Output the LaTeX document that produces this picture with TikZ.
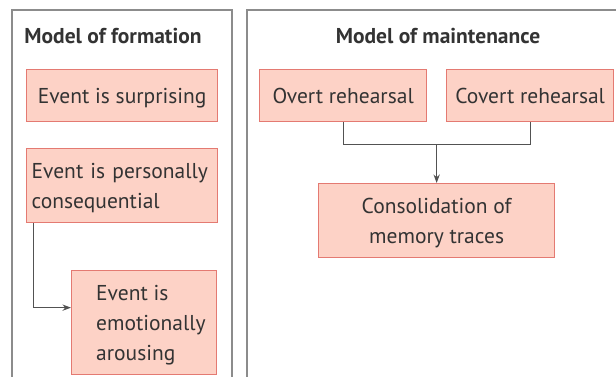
\documentclass[tikz,border=0pt]{standalone}
\usepackage{fontspec}
\setmainfont{PT Sans}
\usepackage{tikz}
\usetikzlibrary{arrows.meta,calc}
\definecolor{boxfill}{RGB}{253,210,198}
\definecolor{boxline}{RGB}{228,122,114}
\definecolor{inkgray}{RGB}{51,51,51}
\definecolor{panelgray}{RGB}{140,140,140}
\tikzset{
  panel/.style    = {draw=panelgray,line width=1.4pt},
  title/.style    = {font=\fontsize{21.5}{24}\selectfont\bfseries,text=inkgray},
  eventbox/.style = {draw=boxline,fill=boxfill,line width=1.3pt,anchor=north west,
                     inner sep=0pt,text=inkgray,font=\fontsize{21.5}{30}\selectfont,text depth=0pt},
  lbl/.style      = {text=inkgray,font=\fontsize{21.5}{30}\selectfont,align=left,inner sep=0pt},
  joinline/.style = {draw=inkgray!85,line width=1pt},
  arr/.style      = {-{Stealth[length=3mm,width=2.2mm]},joinline}
}
\begin{document}
\begin{tikzpicture}[x=1pt,y=-1pt]
  \useasboundingbox (0,0) rectangle (616,376);
  % panels
  \draw[panel] (12,380) -- (12,10) -- (232,10) -- (232,380);
  \draw[panel] (247,380) -- (247,10) -- (620,10);
  \node[title] (formtitle) at (113,36) {Model of formation};
  \node[title] (maintitle) at (438,36) {Model of maintenance};
  % formation
  \node[eventbox,minimum width=191pt,minimum height=52pt] (surprise) at (26,69) {Event is surprising};
  \node[eventbox,minimum width=191pt,minimum height=74pt,align=left,text width=181pt,text depth=30pt] (conseq) at (26,148)
    {Event is personally\\consequential};
  \node[eventbox,minimum width=145pt,minimum height=104pt] (arousal) at (71,270) {};
  \node[lbl,anchor=west] (arousaltext) at (96,325) {Event is\\emotionally\\arousing};
  \draw[arr] ([xshift=7pt]conseq.south west) |- ([yshift=15pt]arousal.west);
  % maintenance
  \node[eventbox,minimum width=167pt,minimum height=52pt] (overt) at (259,69) {Overt rehearsal};
  \node[eventbox,minimum width=167pt,minimum height=52pt] (covert) at (446,69) {Covert rehearsal};
  \node[eventbox,minimum width=236pt,minimum height=74pt,align=center] (consol) at (318,183)
    {Consolidation of\\memory traces};
  \draw[joinline] (overt.south) -- ++(0,22) coordinate (ojoin) -| (covert.south);
  \coordinate (join) at ($(ojoin)!0.5!(ojoin -| covert.south)$);
  \draw[arr] (join) -- (join |- consol.north);
\end{tikzpicture}
\end{document}
